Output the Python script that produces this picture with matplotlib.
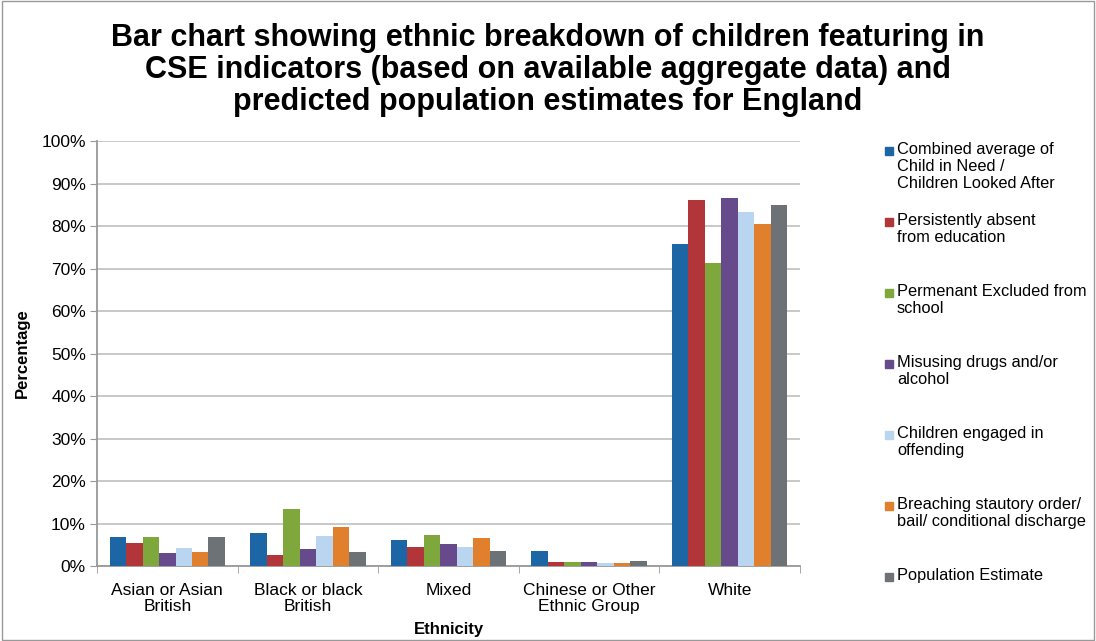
import numpy as np
import matplotlib.pyplot as plt
from matplotlib.patches import Rectangle

plt.rcParams['font.family'] = ['Liberation Sans', 'DejaVu Sans']

# Categories and series values (percent)
categories = ["Asian or Asian\nBritish", "Black or black\nBritish", "Mixed",
              "Chinese or Other\nEthnic Group", "White"]
series_names = [
    "Combined average of\nChild in Need /\nChildren Looked After",
    "Persistently absent\nfrom education",
    "Permenant Excluded from\nschool",
    "Misusing drugs and/or\nalcohol",
    "Children engaged in\noffending",
    "Breaching stautory order/\nbail/ conditional discharge",
    "Population Estimate",
]
cin_cla = [6.9, 7.7, 6.2, 3.6, 75.8]
absent = [5.5, 2.7, 4.5, 1.0, 86.1]
excluded = [6.9, 13.3, 7.3, 1.0, 71.2]
drugs = [3.0, 3.9, 5.2, 0.9, 86.7]
offending = [4.3, 7.1, 4.4, 0.8, 83.4]
breaching = [3.3, 9.1, 6.6, 0.6, 80.4]
population = [6.9, 3.3, 3.5, 1.2, 84.9]
values = [cin_cla, absent, excluded, drugs, offending, breaching, population]
colors = ["#1c66a6", "#b23639", "#7ea83c", "#674a8c", "#b9d5ef", "#e07f2c", "#6c7275"]

fig = plt.figure(figsize=(10.96, 6.41), dpi=100)
ax = fig.add_axes([0.0885, 0.117, 0.6414, 0.663])

x = np.arange(len(categories))
n = len(values)
bw = 0.82 / n
for i, (vals, c) in enumerate(zip(values, colors)):
    ax.bar(x - 0.41 + bw * (i + 0.5), vals, bw, color=c, zorder=3)

ax.set_xlim(-0.5, len(categories) - 0.5)
ax.set_ylim(0, 100)
ax.set_yticks(np.arange(0, 101, 10))
ax.set_yticklabels([f"{v}%" for v in range(0, 101, 10)], fontsize=12.5)
ax.set_xticks(x)
ax.set_xticklabels(categories, fontsize=12.5, linespacing=1.1)
ax.set_xticks(np.arange(-0.5, len(categories), 1), minor=True)
ax.tick_params(axis='x', which='major', length=0, pad=12)
ax.tick_params(axis='x', which='minor', length=5, color="#999999")
ax.tick_params(axis='y', length=5, color="#999999", pad=3)
ax.grid(axis='y', color="#c4c4c4", linewidth=1.3, zorder=0)
for s in ['top', 'right']:
    ax.spines[s].set_visible(False)
for s in ['left', 'bottom']:
    ax.spines[s].set_color("#999999")
    ax.spines[s].set_linewidth(1.3)

ax.set_ylabel("Percentage", fontsize=12, fontweight='bold', labelpad=8)
ax.set_xlabel("Ethnicity", fontsize=12, fontweight='bold', labelpad=6)

fig.text(0.5, 0.964, "Bar chart showing ethnic breakdown of children featuring in\n"
         "CSE indicators (based on available aggregate data) and\n"
         "predicted population estimates for England",
         ha='center', va='top', fontsize=22, fontweight='bold', linespacing=1.08)

# legend drawn manually with even spacing
for i, (name, c) in enumerate(zip(series_names, colors)):
    ytop = 1 - (142 + 71 * i) / 641
    fig.patches.append(Rectangle((885 / 1096, ytop - 13 / 641), 8 / 1096, 8 / 641,
                                 transform=fig.transFigure, color=c))
    fig.text(897 / 1096, ytop, name, ha='left', va='top', fontsize=11.8,
             linespacing=1.18)

fig.patches.append(Rectangle((0.002, 0.002), 0.996, 0.996, transform=fig.transFigure,
                             fill=False, edgecolor="#999999", linewidth=1))

fig.savefig("out.png", dpi=100)
